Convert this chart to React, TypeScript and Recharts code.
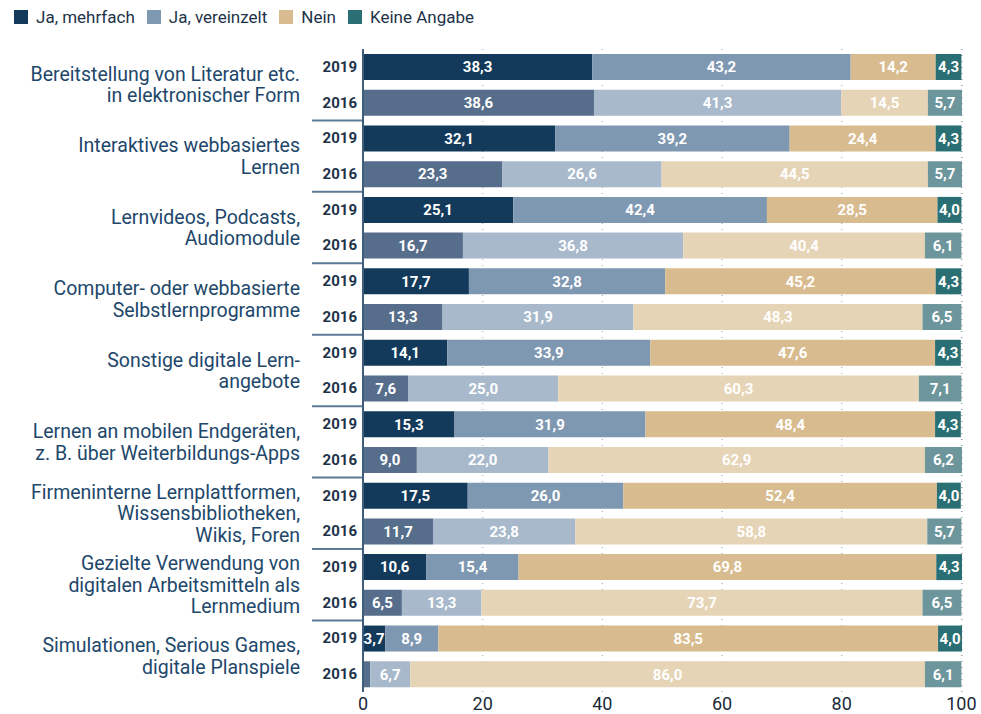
import { Bar, BarChart, CartesianGrid, Cell, LabelList, XAxis, YAxis } from "recharts";

const categories = [
    "Bereitstellung von Literatur etc.\nin elektronischer Form",
    "Interaktives webbasiertes\nLernen",
    "Lernvideos, Podcasts,\nAudiomodule",
    "Computer- oder webbasierte\nSelbstlernprogramme",
    "Sonstige digitale Lern-\nangebote",
    "Lernen an mobilen Endgeräten,\nz. B. über Weiterbildungs-Apps",
    "Firmeninterne  Lernplattformen,\nWissensbibliotheken,\nWikis, Foren",
    "Gezielte Verwendung von\ndigitalen Arbeitsmitteln als\nLernmedium",
    "Simulationen, Serious Games,\ndigitale Planspiele",
];
const years = ["2019", "2016"];

const mehrfach2019 = [38.3, 32.1, 25.1, 17.7, 14.1, 15.3, 17.5, 10.6, 3.7];
const vereinzelt2019 = [43.2, 39.2, 42.4, 32.8, 33.9, 31.9, 26.0, 15.4, 8.9];
const nein2019 = [14.2, 24.4, 28.5, 45.2, 47.6, 48.4, 52.4, 69.8, 83.5];
const keine2019 = [4.3, 4.3, 4.0, 4.3, 4.3, 4.3, 4.0, 4.3, 4.0];

const mehrfach2016 = [38.6, 23.3, 16.7, 13.3, 7.6, 9.0, 11.7, 6.5, 1.2];
const vereinzelt2016 = [41.3, 26.6, 36.8, 31.9, 25.0, 22.0, 23.8, 13.3, 6.7];
const nein2016 = [14.5, 44.5, 40.4, 48.3, 60.3, 62.9, 58.8, 73.7, 86.0];
const keine2016 = [5.7, 5.7, 6.1, 6.5, 7.1, 6.2, 5.7, 6.5, 6.1];

const xTicks = [0, 20, 40, 60, 80, 100];

const seriesKeys = ["mehrfach", "vereinzelt", "nein", "keine"];
const seriesNames = ["Ja, mehrfach", "Ja, vereinzelt", "Nein", "Keine Angabe"];
const colors2019 = ["#133a5b", "#7f98b2", "#d8bc8f", "#2a6f74"];
const colors2016 = ["#566e8b", "#a8b9cc", "#e6d4b6", "#6c959c"];

const FONT = "Roboto, 'Noto Sans', sans-serif";

const rows = categories.flatMap((cat, i) => [
    {
        id: `${i}-2019`,
        year: years[0],
        cat,
        mehrfach: mehrfach2019[i],
        vereinzelt: vereinzelt2019[i],
        nein: nein2019[i],
        keine: keine2019[i],
    },
    {
        id: `${i}-2016`,
        year: years[1],
        cat,
        mehrfach: mehrfach2016[i],
        vereinzelt: vereinzelt2016[i],
        nein: nein2016[i],
        keine: keine2016[i],
    },
]);

const fmt = (v: any) => (typeof v === "number" && v >= 2 ? v.toFixed(1).replace(".", ",") : "");

function YTick(props: any) {
    const { y, payload } = props;
    const row = rows.find((r) => r.id === payload.value);
    if (!row) return null;
    const is2019 = row.year === "2019";
    const lines = row.cat.split("\n");
    const lh = 21.5;
    const groupCenter = y + 17.8;
    const startY = groupCenter - ((lines.length - 1) * lh) / 2;
    return (
        <g>
            <text
                x={357}
                y={y}
                dy={5}
                textAnchor="end"
                fontFamily={FONT}
                fontSize={15}
                fontWeight={700}
                fill="#1e3349"
            >
                {row.year}
            </text>
            {is2019 &&
                lines.map((l: string, k: number) => (
                    <text
                        key={k}
                        x={300}
                        y={startY + k * lh}
                        dy={7}
                        textAnchor="end"
                        fontFamily={FONT}
                        fontSize={19.5}
                        fill="#21476b"
                    >
                        {l}
                    </text>
                ))}
            {!is2019 && row.id !== "8-2016" && (
                <line x1={312} x2={362} y1={y + 17.8} y2={y + 17.8} stroke="#5d7a96" strokeWidth={2} />
            )}
        </g>
    );
}

function XTick(props: any) {
    const { x, y, payload } = props;
    return (
        <text x={x} y={y + 12} textAnchor="middle" fontFamily={FONT} fontSize={18} fill="#1a2a3a">
            {payload.value}
        </text>
    );
}

function Legend() {
    return (
        <div
            style={{
                position: "absolute",
                left: 14,
                top: 7,
                display: "flex",
                alignItems: "center",
                fontFamily: FONT,
                fontSize: 17,
                color: "#1e3349",
            }}
        >
            {seriesNames.map((n, i) => (
                <div key={n} style={{ display: "flex", alignItems: "center", marginRight: 12 }}>
                    <span
                        style={{
                            display: "inline-block",
                            width: 14,
                            height: 14,
                            background: colors2019[i],
                            marginRight: 8,
                        }}
                    />
                    {n}
                </div>
            ))}
        </div>
    );
}

export default function App() {
    return (
        <div style={{ position: "absolute", left: 0, top: 0, width: 981, height: 714, background: "#fff" }}>
            <Legend />
            <BarChart
                width={981}
                height={714}
                data={rows}
                layout="vertical"
                margin={{ top: 49, right: 19, left: 0, bottom: 0 }}
                barSize={26}
            >
                <CartesianGrid horizontal={false} stroke="#9aa3ad" strokeDasharray="1 5" />
                <XAxis
                    type="number"
                    domain={[0, 100]}
                    ticks={xTicks}
                    axisLine={false}
                    tickLine={false}
                    height={22}
                    tick={<XTick />}
                    tickMargin={0}
                />
                <YAxis
                    type="category"
                    dataKey="id"
                    width={363}
                    tick={<YTick />}
                    tickLine={false}
                    axisLine={{ stroke: "#3f5d7a", strokeWidth: 2 }}
                    interval={0}
                />
                {seriesKeys.map((key, si) => (
                    <Bar key={key} dataKey={key} stackId="a" isAnimationActive={false}>
                        {rows.map((r) => (
                            <Cell key={r.id} fill={r.year === "2019" ? colors2019[si] : colors2016[si]} />
                        ))}
                        <LabelList
                            dataKey={key}
                            position="center"
                            formatter={fmt}
                            fill="#ffffff"
                            fontSize={15}
                            fontWeight={700}
                            fontFamily={FONT}
                        />
                    </Bar>
                ))}
            </BarChart>
        </div>
    );
}
